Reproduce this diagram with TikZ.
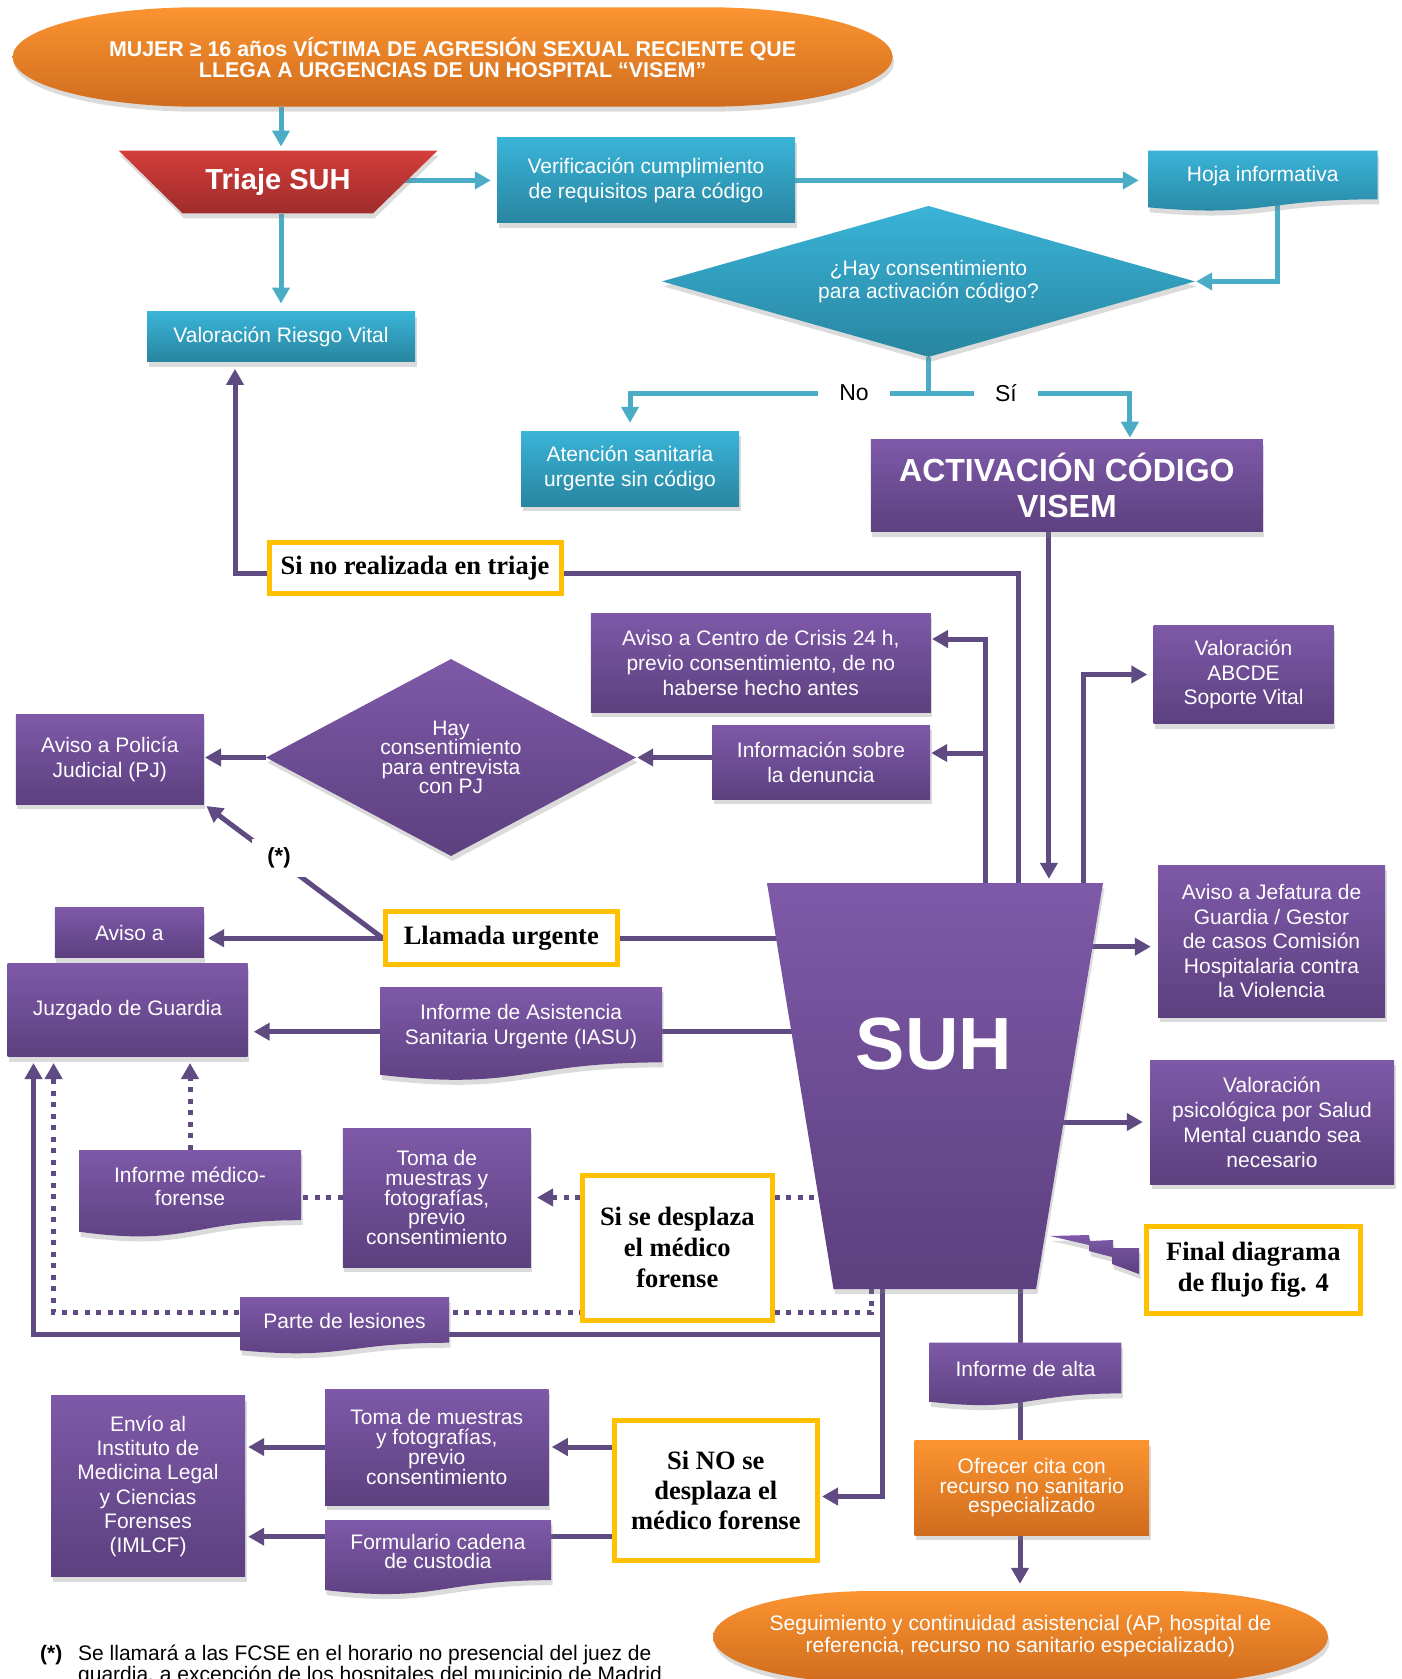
\documentclass[tikz,border=0pt]{standalone}
\usepackage{fontspec}
\setmainfont{Liberation Sans}
\newfontfamily\timesf{Liberation Serif}
\usetikzlibrary{arrows.meta,calc,shadows,backgrounds,shapes.geometric}

\definecolor{tealT}{RGB}{58,180,216}
\definecolor{tealB}{RGB}{40,133,160}
\definecolor{tealL}{RGB}{75,172,198}
\definecolor{purT}{RGB}{126,89,168}
\definecolor{purB}{RGB}{92,64,127}
\definecolor{purL}{RGB}{95,74,130}
\definecolor{orT}{RGB}{251,148,48}
\definecolor{orB}{RGB}{208,108,30}
\definecolor{redT}{RGB}{212,62,58}
\definecolor{redB}{RGB}{158,44,42}
\definecolor{yel}{RGB}{255,192,0}

% document shape: #1 name, #2 path style, #3 x left, #4 x right, #5 y top, #6 height, #7 text, #8 node options
\newcommand\docshape[8]{%
 \pgfmathsetmacro\dxm{(#3+#4)/2}%
 \pgfmathsetmacro\dyr{#5+0.802*#6}%
 \pgfmathsetmacro\dyc{#5+1.107*#6}%
 \pgfmathsetmacro\dyl{#5+0.934*#6}%
 \pgfmathsetmacro\dyt{#5+0.42*#6}%
 \pgfmathsetmacro\dww{#4-#3}%
 \pgfmathsetmacro\dhh{0.84*#6}%
 \path[#2] (#3,#5) -- (#4,#5) -- (#4,\dyr) .. controls (\dxm,\dyr) and (\dxm,\dyc) .. (#3,\dyl) -- cycle;
 \node[txt, inner sep=0pt, minimum width=\dww pt, minimum height=\dhh pt, #8] (#1) at (\dxm,\dyt) {#7};
}

\begin{document}
\begin{tikzpicture}[x=1pt,y=-1pt,
 txt/.style={text=white, align=center, font=\fontsize{21}{25}\selectfont},
 shad/.style={drop shadow={opacity=0.28, shadow xshift=1.5pt, shadow yshift=-5pt}},
 tsh/.style={top color=tealT, bottom color=tealB, shad},
 psh/.style={top color=purT, bottom color=purB, shad},
 osh/.style={top color=orT, bottom color=orB, shad},
 rsh/.style={top color=redT, bottom color=redB, shad},
 tbox/.style={rectangle, inner sep=0pt, tsh, txt},
 pbox/.style={rectangle, inner sep=0pt, psh, txt},
 obox/.style={rectangle, inner sep=0pt, osh, txt},
 ybox/.style={rectangle, draw=yel, line width=5pt, fill=white, inner sep=0pt, text=black, align=center, font=\timesf\bfseries\fontsize{26.5}{31}\selectfont},
 anch/.style={rectangle, inner sep=0pt, txt},
 tline/.style={draw=tealL, line width=5pt},
 tarr/.style={tline, -{Triangle[length=16pt,width=17pt]}},
 pline/.style={draw=purL, line width=5pt},
 parr/.style={pline, -{Triangle[length=16pt,width=17pt]}},
 pdot/.style={pline, dash pattern=on 5pt off 6.5pt},
 pdarr/.style={pdot, -{Triangle[length=16pt,width=17pt]}},
 lbl/.style={fill=white, inner sep=0pt, text=black, font=\fontsize{23}{25}\selectfont},
]
\useasboundingbox (0,0) rectangle (1401,1679);

% ---------- top oval ----------
\path[osh] (12.6,57) .. controls (12.6,29.55) and (95.4,7.3) .. (197.6,7.3) -- (707.6,7.3) .. controls (809.8,7.3) and (892.6,29.55) .. (892.6,57) .. controls (892.6,84.45) and (809.8,106.7) .. (707.6,106.7) -- (197.6,106.7) .. controls (95.4,106.7) and (12.6,84.45) .. (12.6,57) -- cycle;
\node[anch, minimum width=880pt, minimum height=99.4pt, font=\bfseries\fontsize{21.4}{21.6}\selectfont] (start) at (452.6,57.5) {MUJER ≥ 16 años VÍCTIMA DE AGRESIÓN SEXUAL RECIENTE QUE\\LLEGA A URGENCIAS DE UN HOSPITAL “VISEM”};

% ---------- triaje ----------
\path[rsh] (118.8,150.7) -- (437.4,150.7) -- (373,213.3) -- (182.5,213.3) -- cycle;
\node[anch, minimum width=318.6pt, minimum height=62.6pt, font=\bfseries\fontsize{29}{32}\selectfont] (triaje) at (278,182) {Triaje SUH};

\node[tbox, minimum width=298pt, minimum height=85pt] (verif) at (646,180.4) {Verificación cumplimiento\\de requisitos para código};
\docshape{hoja}{tsh}{1148}{1377.5}{150.7}{60.6}{Hoja informativa}{}
\node[diamond, tsh, inner sep=0pt, aspect=3.53, minimum width=533pt, minimum height=151pt, txt, font=\fontsize{21}{23.3}\selectfont] (q1) at (928.5,281.4) {¿Hay consentimiento\\para activación código?};
\node[tbox, minimum width=268pt, minimum height=50pt] (valor) at (281,336.7) {Valoración Riesgo Vital};
\node[tbox, minimum width=218pt, minimum height=75pt] (aten) at (630,468.5) {Atención sanitaria\\urgente sin código};
\node[lbl, minimum width=72pt, minimum height=30pt] (no) at (854,393) {No};
\node[lbl, minimum width=64pt, minimum height=30pt] (si) at (1006,393) {Sí};

\node[pbox, minimum width=392pt, minimum height=92pt, font=\bfseries\fontsize{32}{36}\selectfont] (activ) at (1066.9,485.9) {ACTIVACIÓN CÓDIGO\\VISEM};
\node[ybox, minimum width=292pt, minimum height=51pt] (y1) at (415,568) {Si no realizada en triaje};

\node[pbox, minimum width=340pt, minimum height=99pt] (crisis) at (760.8,662.5) {Aviso a Centro de Crisis 24 h,\\previo consentimiento, de no\\haberse hecho antes};
\node[pbox, minimum width=218pt, minimum height=74pt] (info) at (821,762) {Información sobre\\la denuncia};
\node[pbox, minimum width=180pt, minimum height=98pt, font=\fontsize{21}{24.5}\selectfont] (abcde) at (1243.5,674.5) {Valoración\\ABCDE\\Soporte Vital};
\node[pbox, minimum width=188pt, minimum height=90pt] (policia) at (109.8,759) {Aviso a Policía\\Judicial (PJ)};
\node[diamond, psh, inner sep=0pt, aspect=1.88, minimum width=370pt, minimum height=197pt, txt, font={\fontsize{21}{19.3}\selectfont\lineskiplimit=-20pt}] (q2) at (451,757.5) {Hay\\consentimiento\\para entrevista\\con PJ};
\node[fill=white, inner sep=0pt, minimum width=54pt, minimum height=38pt, font=\bfseries\fontsize{22}{24}\selectfont] (ast) at (279,858) {(*)};

\node[pbox, minimum width=149pt, minimum height=50pt] (avisoa) at (129.3,932.5) {Aviso a};
\node[ybox, minimum width=232pt, minimum height=53pt] (llamada) at (501.3,938.2) {Llamada urgente};
\node[pbox, minimum width=227pt, minimum height=152pt, font=\fontsize{21}{24.5}\selectfont] (jef) at (1271.5,941) {Aviso a Jefatura de\\Guardia / Gestor\\de casos Comisión\\Hospitalaria contra\\la Violencia};
\node[pbox, minimum width=240pt, minimum height=93pt] (juz) at (127.5,1010.3) {Juzgado de Guardia};
\docshape{iasu}{psh}{380}{662}{987}{94}{Informe de Asistencia\\Sanitaria Urgente (IASU)}{}

% ---------- SUH ----------
\path[psh] (767,883) -- (1103,883) -- (1036,1289) -- (833.5,1289) -- cycle;
\node[anch, minimum width=336pt, minimum height=406pt] (suh) at (935,1086) {};
\node[anch, font=\bfseries\fontsize{74}{80}\selectfont] (suhtxt) at (934,1044) {SUH};

\node[pbox, minimum width=244pt, minimum height=124pt] (psico) at (1272,1122) {Valoración\\psicológica por Salud\\Mental cuando sea\\necesario};
\docshape{medfor}{psh}{79}{301}{1150}{87.5}{Informe médico-\\forense}{font=\fontsize{21}{23}\selectfont}
\node[pbox, minimum width=188pt, minimum height=139pt, font={\fontsize{21}{19.8}\selectfont\lineskiplimit=-20pt}] (toma) at (436.8,1197.5) {Toma de\\muestras y\\fotografías,\\previo\\consentimiento};
\node[ybox, minimum width=189.5pt, minimum height=144.7pt] (sise) at (677.3,1247.9) {Si se desplaza\\el médico\\forense};
\node[ybox, minimum width=214.5pt, minimum height=87pt] (final) at (1253.3,1270) {Final diagrama\\de flujo fig. 4};
\path[psh] (1050,1236) -- (1089,1235) -- (1090,1241) -- (1113,1240) -- (1113,1248) -- (1139,1248) -- (1139,1274) -- (1112,1264) -- (1112,1257) -- (1089,1251) -- (1089,1245) -- cycle;
\docshape{parte}{psh}{240}{449}{1297}{57}{Parte de lesiones}{}
\docshape{alta}{psh}{929.7}{1121.4}{1342.7}{63.2}{Informe de alta}{}

\node[pbox, minimum width=194pt, minimum height=181pt, font=\fontsize{21}{24.3}\selectfont] (envio) at (148,1486.4) {Envío al\\Instituto de\\Medicina Legal\\y Ciencias\\Forenses\\(IMLCF)};
\node[pbox, minimum width=223.5pt, minimum height=116pt, font={\fontsize{21}{19.7}\selectfont\lineskiplimit=-20pt}] (toma2) at (436.8,1447) {Toma de muestras\\y fotografías,\\previo\\consentimiento};
\node[ybox, minimum width=203.4pt, minimum height=140pt, font=\timesf\bfseries\fontsize{26.5}{30}\selectfont] (sino) at (715.8,1490.5) {Si NO se\\desplaza el\\médico forense};
\docshape{form}{psh}{325}{551}{1520}{75}{Formulario cadena\\de custodia}{font={\fontsize{21}{19.3}\selectfont\lineskiplimit=-20pt}}
\node[obox, minimum width=234.5pt, minimum height=94.3pt, font={\fontsize{21}{19.5}\selectfont\lineskiplimit=-20pt}] (ofrecer) at (1031.8,1487.9) {Ofrecer cita con\\recurso no sanitario\\especializado};

% ---------- bottom oval ----------
\path[osh] (713,1637) .. controls (713,1611.6) and (784.6,1591) .. (873,1591) -- (1168,1591) .. controls (1256.4,1591) and (1328,1611.6) .. (1328,1637) .. controls (1328,1662.4) and (1256.4,1683) .. (1168,1683) -- (873,1683) .. controls (784.6,1683) and (713,1662.4) .. (713,1637) -- cycle;
\node[anch, minimum width=615pt, minimum height=92pt, font=\fontsize{21}{22}\selectfont] (endn) at (1020.5,1636) {Seguimiento y continuidad asistencial (AP, hospital de\\referencia, recurso no sanitario especializado)};

% ---------- footnote ----------
\node[anchor=base west, inner sep=0pt, font=\bfseries\fontsize{21}{25}\selectfont] (fnmark) at (40,1660) {(*)};
\node[anchor=base west, inner sep=0pt, font=\fontsize{21}{25}\selectfont] (fn1) at (78,1660) {Se llamará a las FCSE en el horario no presencial del juez de};
\node[anchor=base west, inner sep=0pt, font=\fontsize{21}{25}\selectfont] (fn2) at (78,1681) {guardia, a excepción de los hospitales del municipio de Madrid};

% ---------- connectors ----------
\begin{scope}[on background layer]
\fill[white] (0,0) rectangle (1401,1679);
% teal
\draw[tarr, shorten >=4pt] (start.south -| valor.north) -- (valor.north |- triaje.north);
\draw[tarr, shorten >=8pt] (triaje.south -| valor.north) -- (valor.north);
\draw[tarr, shorten >=6pt] (triaje.center |- verif.west) -- (verif.west);
\draw[tarr, shorten >=9pt] (verif.east) -- (verif.east -| hoja.west);
\draw[tarr, shorten >=1pt] ([xshift=-100pt]hoja.south east) |- (q1.east);
\coordinate (split) at (928.5,393);
\draw[tline] (q1.south) -- (split);
\draw[tarr, shorten >=8pt] (split) -| (aten.north);
\draw[tarr, shorten >=2pt] (split) -| ([xshift=63pt]activ.north);
% purple, upper part
\draw[parr, shorten >=7pt] ([yshift=-5pt]y1.west) -| ([xshift=-46pt]valor.south);
\draw[pline] ([yshift=-5pt]y1.east) -| ([xshift=83.6pt]suh.north);
\draw[parr, shorten >=4pt] ([xshift=-18pt]activ.south) -- ([xshift=-18pt]activ.south |- suh.north);
\coordinate (cv) at ([xshift=50pt]suh.north);
\draw[parr, shorten >=1pt] (cv) |- ([yshift=23.5pt]crisis.east);
\coordinate (infoR) at ([yshift=9pt]info.east);
\draw[parr, shorten >=1pt] (cv |- infoR) -- (infoR);
\draw[parr, shorten >=6pt] ([xshift=148pt]suh.north) |- (abcde.west);
\draw[parr, shorten >=1pt] (info.west |- q2.east) -- (q2.east);
\draw[parr, shorten >=1pt] (q2.west) -- (q2.west -| policia.east);
\draw[parr, shorten >=3pt] (llamada.west) -- (policia.south east);
\draw[parr, shorten >=4pt] (llamada.west) -- (llamada.west -| avisoa.east);
\draw[pline] (llamada.east) -- (llamada.east -| suh.center);
\coordinate (rowiasu) at (0,1031.7);
\draw[parr, shorten >=6pt] (iasu.west |- rowiasu) -- (juz.east |- rowiasu);
\draw[pline] (iasu.east |- rowiasu) -- (suh.center |- rowiasu);
\coordinate (jefL) at ([yshift=-5.7pt]jef.west);
\draw[parr, shorten >=7pt] (suh.center |- jefL) -- (jefL);
\draw[parr, shorten >=7pt] (suh.center |- psico.west) -- (psico.west);
% dotted
\coordinate (rowdot) at (0,1197.5);
\draw[pdarr, shorten >=6pt] (sise.west |- rowdot) -- (toma.east |- rowdot);
\draw[pdot] (sise.east |- rowdot) -- (suh.center |- rowdot);
\draw[pdot] (toma.west |- rowdot) -- (medfor.east |- rowdot);
\draw[pdarr, shorten >=6pt] (medfor.north) -- (medfor.north |- juz.south);
\coordinate (rowd2) at (0,1312.7);
\coordinate (colL2) at (53.6,0);
\draw[pdarr, shorten >=6pt] ([xshift=-64pt]suh.south) |- (colL2 |- rowd2) -- (colL2 |- juz.south);
% solid lower part
\coordinate (rows) at (0,1334.3);
\coordinate (colL1) at (33.5,0);
\draw[parr, shorten >=6pt] ([xshift=-53pt]suh.south) |- (colL1 |- rows) -- (colL1 |- juz.south);
\draw[parr, shorten >=2pt] ([xshift=-53pt]suh.south) |- ([yshift=-6pt]sino.east);
\draw[parr, shorten >=3pt] (sino.west |- toma2.east) -- (toma2.east);
\coordinate (rowf) at (0,1536.7);
\draw[pline] (sino.west |- rowf) -- (form.east |- rowf);
\draw[parr, shorten >=3pt] (toma2.west) -- (toma2.west -| envio.east);
\draw[parr, shorten >=3pt] (form.west |- rowf) -- (envio.east |- rowf);
\coordinate (colA) at (1020,0);
\draw[pline] (colA |- suh.south) -- (colA |- alta.north);
\draw[pline] (colA |- alta.south) -- (colA |- ofrecer.north);
\draw[parr, shorten >=6pt] (colA |- ofrecer.south) -- (colA |- endn.north);
\end{scope}
\end{tikzpicture}
\end{document}
